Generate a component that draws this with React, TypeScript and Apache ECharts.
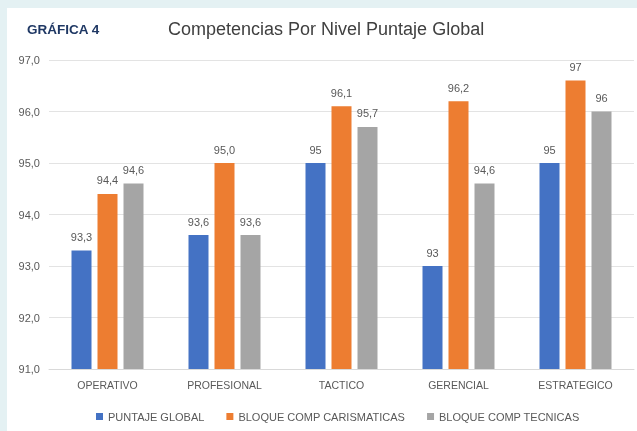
import React, { useEffect, useRef } from "react";
import * as echarts from "echarts";

const categories = ["OPERATIVO", "PROFESIONAL", "TACTICO", "GERENCIAL", "ESTRATEGICO"];
const puntajeGlobal = [93.3, 93.6, 95, 93, 95];
const carismaticas = [94.4, 95.0, 96.1, 96.2, 96.6];
const tecnicas = [94.6, 93.6, 95.7, 94.6, 96];
const puntajeLabels = ["93,3", "93,6", "95", "93", "95"];
const carismaticasLabels = ["94,4", "95,0", "96,1", "96,2", "97"];
const tecnicasLabels = ["94,6", "93,6", "95,7", "94,6", "96"];
const seriesNames = ["PUNTAJE GLOBAL", "BLOQUE COMP CARISMATICAS", "BLOQUE COMP TECNICAS"];
const colors = ["#4472C4", "#ED7D31", "#A5A5A5"];

const FONT = "'Liberation Sans', 'DejaVu Sans', sans-serif";

export default function App() {
  const ref = useRef<HTMLDivElement>(null);
  useEffect(() => {
    const chart = echarts.init(ref.current!, null, { renderer: "svg" });
    const mk = (name: string, data: number[], labels: string[], color: string) => ({
      name,
      type: "bar",
      data,
      barWidth: 20,
      barGap: "30%",
      itemStyle: { color },
      label: {
        show: true,
        position: "top",
        distance: 8,
        color: "#595959",
        fontSize: 11,
        fontFamily: FONT,
        formatter: (p: any) => labels[p.dataIndex],
      },
    });
    chart.setOption({
      animation: false,
      textStyle: { fontFamily: FONT },
      graphic: [
        { type: "rect", z: -10, shape: { x: 0, y: 0, width: 637, height: 431 }, style: { fill: "#e4f1f3" } },
        { type: "rect", z: -9, shape: { x: 7, y: 8, width: 630, height: 423 }, style: { fill: "#ffffff" } },
        {
          type: "text",
          left: 27,
          top: 22,
          style: { text: "GRÁFICA 4", fill: "#1f3864", font: `bold 13.5px ${FONT}` },
        },
        {
          type: "text",
          left: 168,
          top: 20,
          style: { text: "Competencias Por Nivel Puntaje Global", fill: "#404040", font: `18px ${FONT}` },
        },
      ],
      grid: { left: 49, right: 3, top: 60, bottom: 62, containLabel: false },
      legend: {
        left: 91,
        top: 406,
        itemWidth: 7,
        itemHeight: 7,
        itemGap: 22,
        icon: "rect",
        textStyle: { color: "#595959", fontSize: 11, fontFamily: FONT },
        data: seriesNames,
      },
      xAxis: {
        type: "category",
        data: categories,
        axisTick: { show: false },
        axisLine: { lineStyle: { color: "#d9d9d9" } },
        axisLabel: { color: "#595959", fontSize: 10.5, margin: 10, fontFamily: FONT },
      },
      yAxis: {
        type: "value",
        min: 91,
        max: 97,
        interval: 1,
        axisLine: { show: false },
        axisTick: { show: false },
        splitLine: { lineStyle: { color: "#e3e3e3" } },
        axisLabel: {
          color: "#595959",
          fontSize: 11,
          margin: 9,
          fontFamily: FONT,
          formatter: (v: number) => v.toFixed(1).replace(".", ","),
        },
      },
      series: [
        mk(seriesNames[0], puntajeGlobal, puntajeLabels, colors[0]),
        mk(seriesNames[1], carismaticas, carismaticasLabels, colors[1]),
        mk(seriesNames[2], tecnicas, tecnicasLabels, colors[2]),
      ],
    });
    return () => chart.dispose();
  }, []);
  return <div ref={ref} style={{ position: "fixed", left: 0, top: 0, width: 637, height: 431 }} />;
}
